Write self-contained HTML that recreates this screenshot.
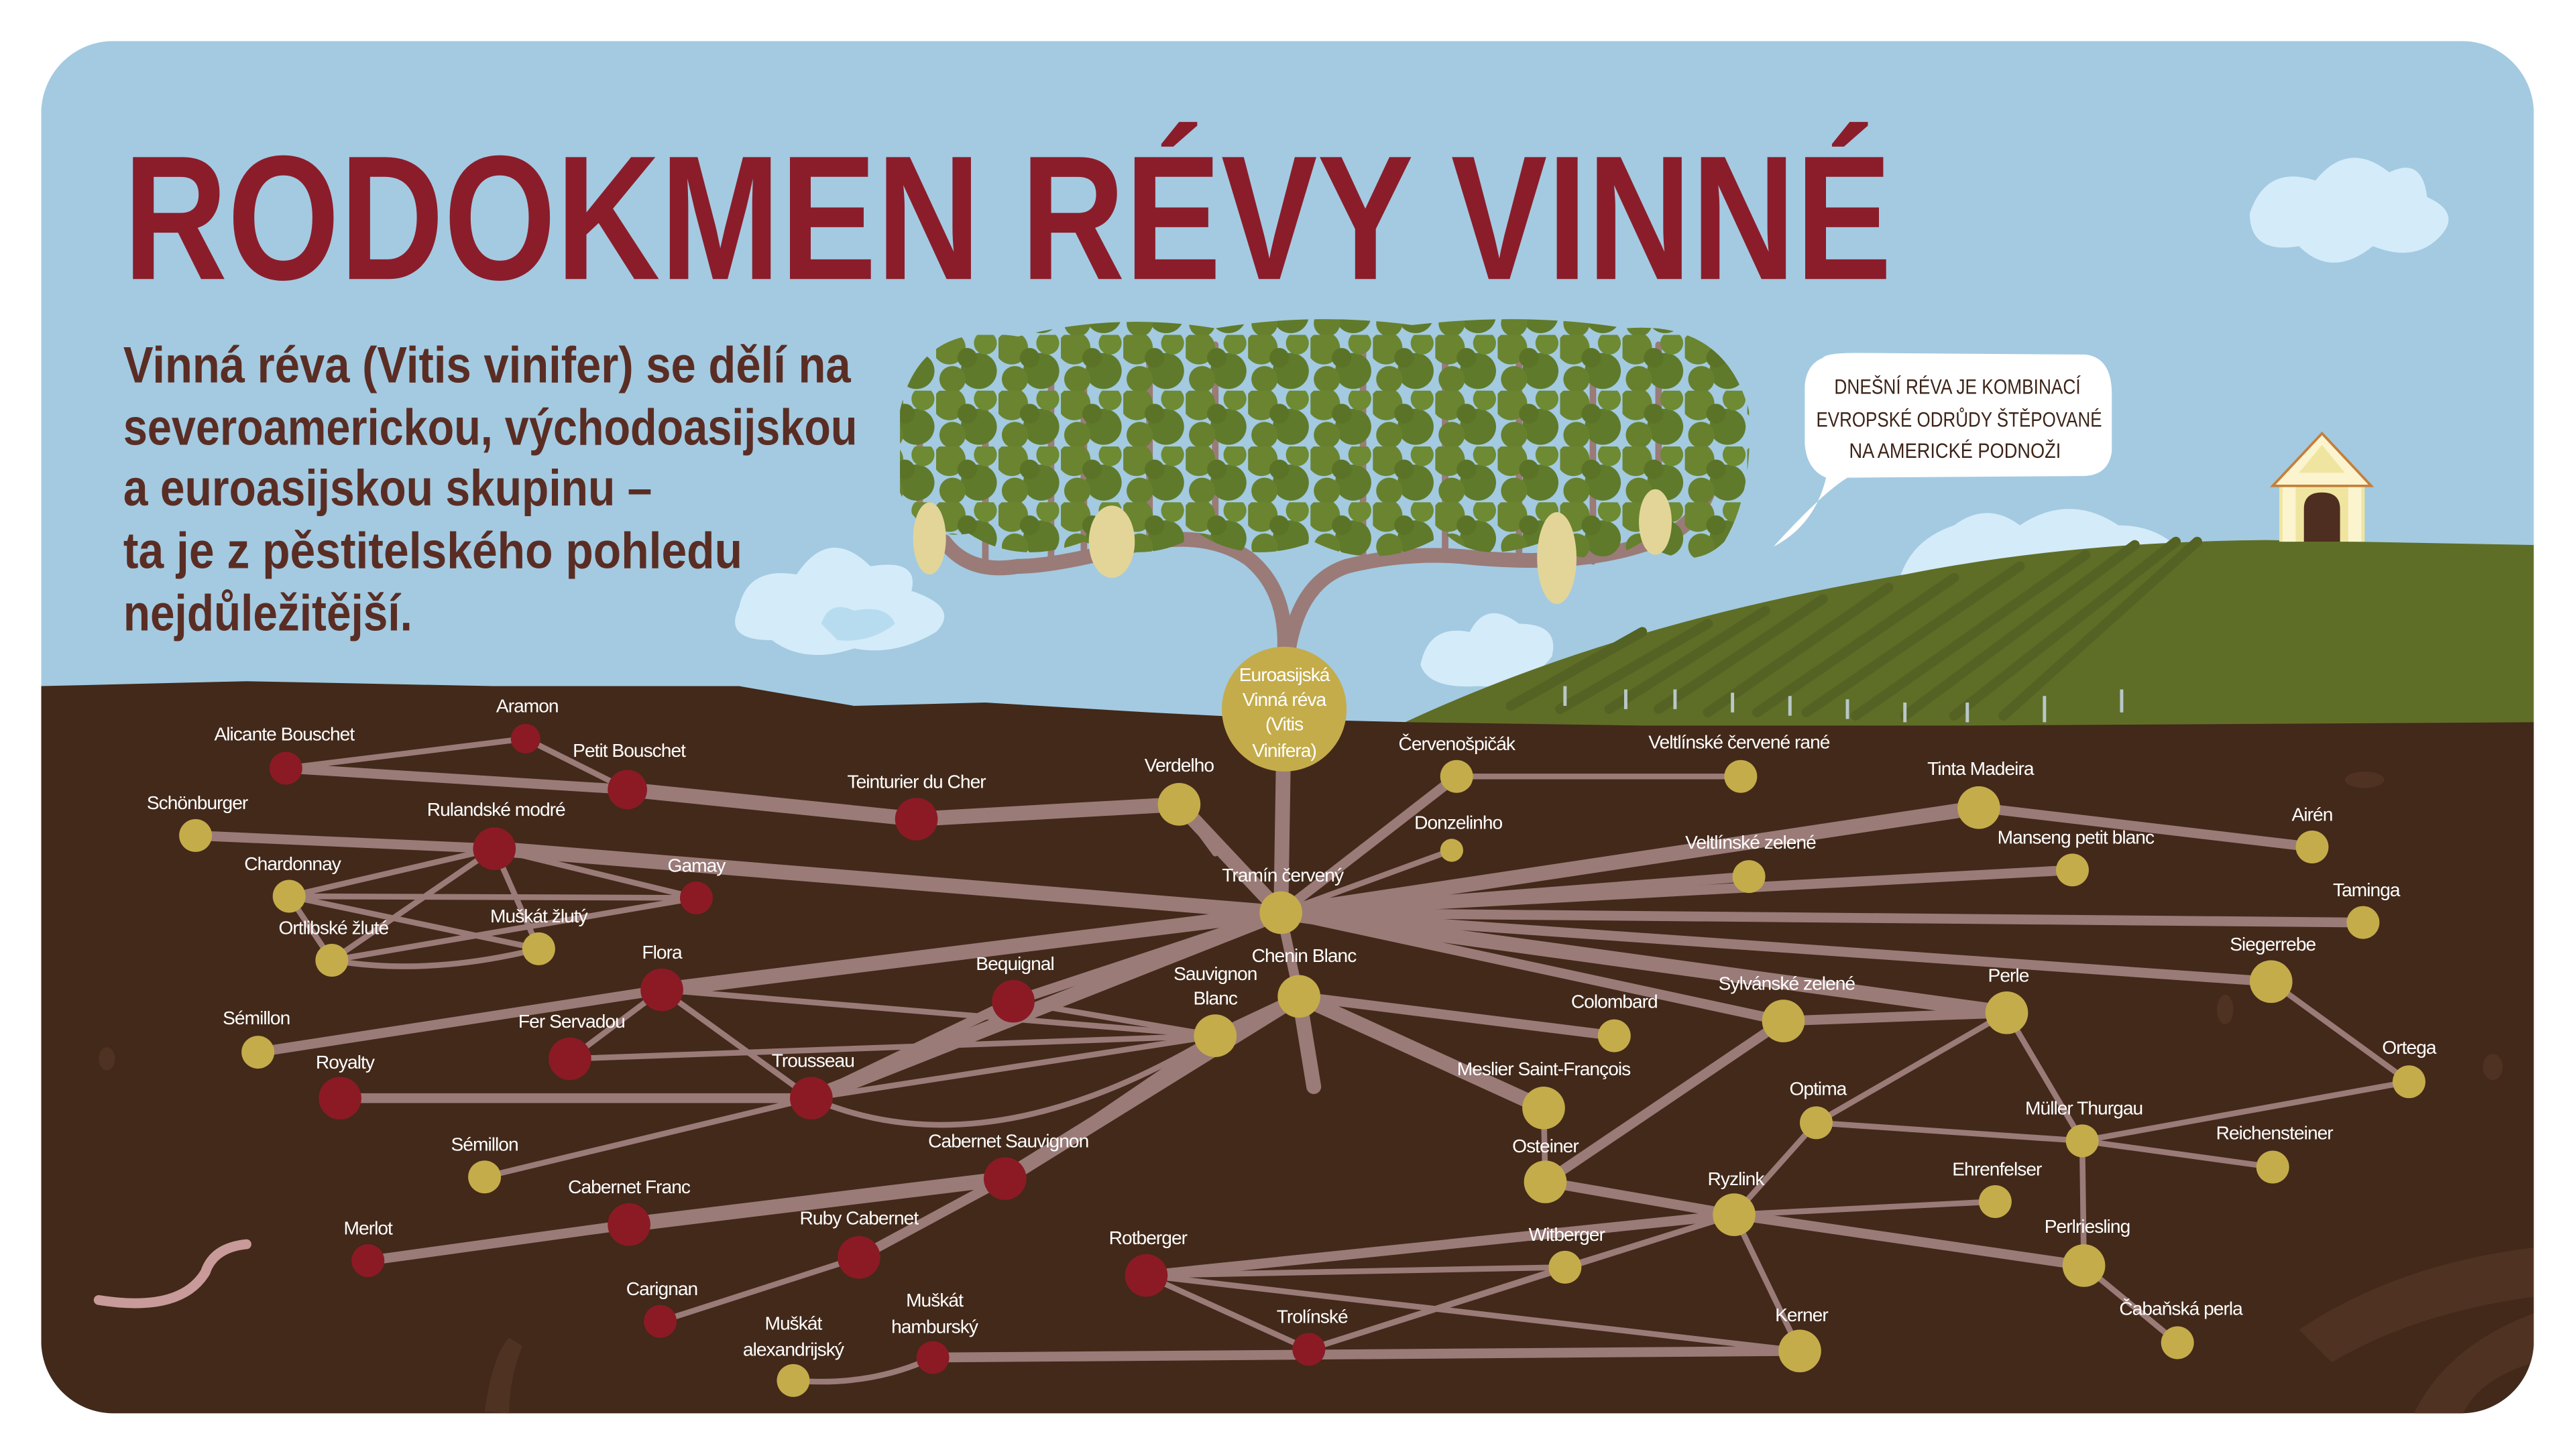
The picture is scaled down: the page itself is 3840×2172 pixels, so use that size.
<!DOCTYPE html>
<html><head><meta charset="utf-8"><style>
html,body{margin:0;padding:0;background:#fff}
svg{display:block}
.l{font-family:"Liberation Sans Narrow","Liberation Sans",sans-serif;font-size:11.5px;letter-spacing:-0.4px;fill:#fff;text-anchor:middle}
</style></head><body>
<svg width="3840" height="2172" viewBox="0 0 1568 887" xmlns="http://www.w3.org/2000/svg">
<defs>
<clipPath id="card"><rect x="25" y="25" width="1518" height="836" rx="44"/></clipPath>
<pattern id="leaf" width="38" height="34" patternUnits="userSpaceOnUse">
<circle cx="8" cy="8" r="10" fill="#6b8430"/><circle cx="26" cy="22" r="11" fill="#5f7a2a"/><circle cx="30" cy="5" r="7" fill="#6e8a32"/><circle cx="10" cy="27" r="8" fill="#66802e"/><circle cx="19" cy="14" r="6" fill="#5a7326"/>
</pattern>
</defs>
<g clip-path="url(#card)">
<rect x="25" y="25" width="1518" height="836" fill="#a3cae1"/>
<!-- clouds -->
<g fill="#d4ebf9">
<path d="M1370,130 Q1380,100 1410,110 Q1430,85 1455,105 Q1475,95 1478,120 Q1500,130 1485,145 Q1470,160 1445,150 Q1420,170 1400,150 Q1370,155 1370,130Z"/>
<path d="M450,370 Q455,345 485,350 Q505,320 530,345 Q560,340 555,360 Q585,370 570,385 Q545,400 520,395 Q490,405 470,390 Q440,390 450,370Z"/>
<path d="M865,405 Q870,380 895,385 Q905,365 925,380 Q950,380 945,400 Q930,420 900,418 Q870,420 865,405Z"/>
<path d="M1155,360 Q1160,330 1190,320 Q1210,305 1230,320 Q1260,300 1290,320 Q1320,320 1335,345 L1330,370 L1150,370Z"/>
</g>
<path d="M500,380 Q505,365 520,372 Q540,368 545,380 Q530,392 510,390Z" fill="#b8dcef"/>
<!-- hill -->
<path d="M845,445 Q980,380 1160,350 Q1260,330 1380,329 L1543,332 L1543,450 L845,450Z" fill="#5f6e27"/>
<g stroke="#546223" stroke-width="6" fill="none" stroke-linecap="round">
<path d="M920,430 L1000,385"/><path d="M950,432 L1040,380"/><path d="M980,432 L1075,372"/><path d="M1010,432 L1110,365"/><path d="M1040,434 L1150,358"/><path d="M1070,434 L1190,352"/><path d="M1100,434 L1230,345"/><path d="M1130,436 L1270,338"/><path d="M1160,436 L1300,332"/><path d="M1190,436 L1325,330"/><path d="M1220,436 L1338,330"/>
</g>
<g stroke="#b8c8c8" stroke-width="2">
<path d="M953,418 v12"/><path d="M990,420 v12"/><path d="M1020,420 v12"/><path d="M1055,422 v12"/><path d="M1090,424 v12"/><path d="M1125,426 v12"/><path d="M1160,428 v12"/><path d="M1198,428 v12"/><path d="M1245,424 v16"/><path d="M1292,420 v14"/>
</g>
<!-- chapel -->
<rect x="1388" y="296" width="52" height="34" fill="#f0e5a0"/>
<rect x="1390" y="296" width="8" height="34" fill="#fbf4cf"/><rect x="1430" y="296" width="8" height="34" fill="#fbf4cf"/>
<polygon points="1384,296 1414,264 1444,296" fill="#fbf4cf" stroke="#c47f3a" stroke-width="1.5"/>
<polygon points="1400,288 1414,271 1428,288" fill="#f0e5a0"/>
<path d="M1403,330 V310 Q1403,300 1414,300 Q1425,300 1425,310 V330Z" fill="#4d2e20"/>
<!-- speech bubble -->
<path d="M1110,218 Q1112,215 1130,215 L1270,216 Q1286,218 1286,240 L1286,275 Q1284,290 1268,290 L1125,291 Q1110,300 1080,333 Q1105,320 1112,291 Q1100,286 1099,270 L1099,235 Q1100,222 1110,218Z" fill="#fff"/>
<g font-family="Liberation Sans Narrow,Liberation Sans,sans-serif" font-size="13" fill="#3d2418">
<text x="1117" y="240" textLength="150" lengthAdjust="spacingAndGlyphs">DNEŠNÍ RÉVA JE KOMBINACÍ</text>
<text x="1106" y="260" textLength="174" lengthAdjust="spacingAndGlyphs">EVROPSKÉ ODRŮDY ŠTĚPOVANÉ</text>
<text x="1126" y="279" textLength="129" lengthAdjust="spacingAndGlyphs">NA AMERICKÉ PODNOŽI</text>
</g>
<!-- ground -->
<path d="M25,418 L150,415 L300,418 L450,418 L520,430 L600,428 L700,434 L780,438 L860,440 L1000,442 L1200,442 L1543,440 L1543,861 L25,861Z" fill="#42291a"/>
<g fill="#4f3222">
<ellipse cx="1440" cy="475" rx="12" ry="5"/><ellipse cx="1518" cy="650" rx="6" ry="8"/><ellipse cx="65" cy="645" rx="5" ry="7"/><ellipse cx="1355" cy="615" rx="5" ry="9"/>
<path d="M1400,810 Q1460,770 1543,760 L1543,790 Q1470,800 1420,830Z"/>
<path d="M1470,861 Q1490,820 1543,800 L1543,830 Q1510,840 1500,861Z"/>
<path d="M295,860 Q300,825 310,815 L318,820 Q310,840 310,861Z"/>
</g>
<path d="M60,792 Q110,800 125,775 Q130,760 150,758" stroke="#c99a9a" stroke-width="6" fill="none" stroke-linecap="round"/>
<!-- tree -->
<g fill="none" stroke="#9a7b78" stroke-linecap="round">
<path d="M782,400 Q785,360 760,340 Q730,320 680,335 Q640,345 620,345 Q590,350 575,330" stroke-width="9"/>
<path d="M784,400 Q790,355 820,345 Q860,335 900,340 Q960,345 1000,332 Q1030,325 1040,300" stroke-width="9"/>
<path d="M600,345 V250 M640,340 V220 M700,333 V220 M740,325 V210 M830,340 V210 M880,338 V215 M925,342 V210 M970,342 V220 M1010,330 V210 M660,338 V230 M560,320 V240" stroke-width="4"/>
</g>
<path d="M548,250 Q560,195 620,205 Q680,190 740,200 Q800,190 860,198 Q930,190 990,200 Q1050,195 1065,250 Q1068,300 1050,330 Q1030,350 1000,330 Q970,350 940,330 Q900,345 880,325 Q840,350 800,330 Q760,345 730,325 Q700,345 660,330 Q620,345 590,325 Q560,330 548,300Z" fill="url(#leaf)"/>
<g fill="#e3d598">
<ellipse cx="566" cy="328" rx="10" ry="22"/><ellipse cx="677" cy="330" rx="14" ry="22"/><ellipse cx="948" cy="340" rx="12" ry="28"/><ellipse cx="1008" cy="318" rx="10" ry="20"/>
</g>
<!-- roots -->
<g stroke="#9a7b78" fill="none" stroke-linecap="round">
<g stroke-width="9">
<path d="M782,430 L780,556"/>
<path d="M780,556 L718,490 L558,499 L382,481"/>
<path d="M780,556 L301,517"/>
<path d="M780,556 L494,669"/>
<path d="M780,556 L403,603"/>
<path d="M791,607 L612,718 L383,746"/>
<path d="M791,607 L940,675"/>
<path d="M780,556 L1205,492"/>
<path d="M780,556 L1222,617"/>
<path d="M791,607 L800,662"/>
</g>
<g stroke-width="6">
<path d="M612,718 L523,766"/><path d="M780,556 L791,607"/><path d="M791,607 L740,631"/>
<path d="M780,556 L887,473"/><path d="M780,556 L1065,534"/><path d="M780,556 L1383,598"/>
<path d="M780,556 L1439,562"/><path d="M780,556 L1262,530"/><path d="M780,556 L617,610 L494,669"/>
<path d="M403,603 L157,641"/><path d="M494,669 L207,669"/><path d="M1086,622 L941,720"/>
<path d="M941,720 L1056,740"/><path d="M1056,740 L1269,771"/><path d="M698,777 L1056,740"/>
<path d="M1205,492 L1408,516"/><path d="M382,481 L174,468"/><path d="M301,517 L119,509"/>
<path d="M383,746 L224,768"/><path d="M780,556 L1086,622 L1222,617"/><path d="M791,607 L983,631"/>
<path d="M568,827 L1096,823"/>
</g>
<g stroke-width="3.5">
<path d="M382,481 L320,450 L174,468"/><path d="M887,473 L1060,473"/><path d="M780,556 L884,518"/>
<path d="M301,517 L176,546 L424,547 L301,517 L328,578 L176,546 L202,585 L301,517"/>
<path d="M202,585 L424,547 M202,585 Q260,595 328,578"/>
<path d="M403,603 L347,645 L740,631 L617,610 M403,603 L494,669 M403,603 L740,631"/>
<path d="M494,669 L740,631 L612,718 M494,669 Q600,715 740,631"/>
<path d="M494,669 L295,717"/><path d="M523,766 L402,805"/>
<path d="M483,841 Q530,845 568,827"/>
<path d="M1222,617 L1268,695 L1106,684 L1222,617"/><path d="M1268,695 L1384,711"/>
<path d="M1268,695 L1467,659 L1383,598"/><path d="M1106,684 L1056,740 L1215,732"/>
<path d="M1056,740 L1096,823 L698,777 L797,822 L1056,740"/><path d="M698,777 L953,772 L1056,740"/>
<path d="M797,822 L953,772"/><path d="M1269,771 L1326,818"/><path d="M940,675 L941,720"/>
<path d="M1268,695 L1269,771"/><path d="M718,490 L740,520"/>
</g>
</g>
<!-- nodes -->
<g fill="#8b1a24">
<circle cx="174" cy="468" r="10"/><circle cx="320" cy="450" r="9"/><circle cx="382" cy="481" r="12"/>
<circle cx="301" cy="517" r="13"/><circle cx="558" cy="499" r="13"/><circle cx="424" cy="547" r="10"/>
<circle cx="403" cy="603" r="13"/><circle cx="617" cy="610" r="13"/><circle cx="347" cy="645" r="13"/>
<circle cx="207" cy="669" r="13"/><circle cx="494" cy="669" r="13"/><circle cx="612" cy="718" r="13"/>
<circle cx="383" cy="746" r="13"/><circle cx="224" cy="768" r="10"/><circle cx="523" cy="766" r="13"/>
<circle cx="402" cy="805" r="10"/><circle cx="568" cy="827" r="10"/><circle cx="698" cy="777" r="13"/>
<circle cx="797" cy="822" r="10"/>
</g>
<g fill="#c4ac4a">
<circle cx="782" cy="432" r="38"/>
<circle cx="119" cy="509" r="10"/><circle cx="718" cy="490" r="13"/><circle cx="176" cy="546" r="10"/>
<circle cx="202" cy="585" r="10"/><circle cx="328" cy="578" r="10"/><circle cx="740" cy="631" r="13"/>
<circle cx="791" cy="607" r="13"/><circle cx="780" cy="556" r="13"/><circle cx="157" cy="641" r="10"/>
<circle cx="295" cy="717" r="10"/><circle cx="483" cy="841" r="10"/><circle cx="953" cy="772" r="10"/>
<circle cx="1096" cy="823" r="13"/><circle cx="1056" cy="740" r="13"/><circle cx="941" cy="720" r="13"/>
<circle cx="940" cy="675" r="13"/><circle cx="983" cy="631" r="10"/><circle cx="1086" cy="622" r="13"/>
<circle cx="1222" cy="617" r="13"/><circle cx="1106" cy="684" r="10"/><circle cx="1268" cy="695" r="10"/>
<circle cx="1215" cy="732" r="10"/><circle cx="1384" cy="711" r="10"/><circle cx="1269" cy="771" r="13"/>
<circle cx="1326" cy="818" r="10"/><circle cx="1467" cy="659" r="10"/><circle cx="1383" cy="598" r="13"/>
<circle cx="1439" cy="562" r="10"/><circle cx="1408" cy="516" r="10"/><circle cx="1205" cy="492" r="13"/>
<circle cx="1262" cy="530" r="10"/><circle cx="1065" cy="534" r="10"/><circle cx="1060" cy="473" r="10"/>
<circle cx="887" cy="473" r="10"/><circle cx="884" cy="518" r="7"/>
</g>
<!-- labels -->
<g class="l">
<text class="l" x="782" y="415">Euroasijská</text><text class="l" x="782" y="430">Vinná réva</text><text class="l" x="782" y="445">(Vitis</text><text class="l" x="782" y="461">Vinifera)</text>
<text class="l" x="173" y="451">Alicante Bouschet</text><text class="l" x="321" y="434">Aramon</text><text class="l" x="383" y="461">Petit Bouschet</text>
<text class="l" x="120" y="493">Schönburger</text><text class="l" x="302" y="497">Rulandské modré</text><text class="l" x="558" y="480">Teinturier du Cher</text>
<text class="l" x="718" y="470">Verdelho</text><text class="l" x="178" y="530">Chardonnay</text><text class="l" x="424" y="531">Gamay</text>
<text class="l" x="203" y="569">Ortlibské žluté</text><text class="l" x="328" y="562">Muškát žlutý</text><text class="l" x="403" y="584">Flora</text>
<text class="l" x="618" y="591">Bequignal</text><text class="l" x="740" y="597">Sauvignon</text><text class="l" x="740" y="612">Blanc</text>
<text class="l" x="781" y="537">Tramín červený</text><text class="l" x="794" y="586">Chenin Blanc</text>
<text class="l" x="156" y="624">Sémillon</text><text class="l" x="348" y="626">Fer Servadou</text><text class="l" x="210" y="651">Royalty</text>
<text class="l" x="495" y="650">Trousseau</text><text class="l" x="295" y="701">Sémillon</text><text class="l" x="614" y="699">Cabernet Sauvignon</text>
<text class="l" x="383" y="727">Cabernet Franc</text><text class="l" x="224" y="752">Merlot</text><text class="l" x="523" y="746">Ruby Cabernet</text>
<text class="l" x="403" y="789">Carignan</text><text class="l" x="483" y="810">Muškát</text><text class="l" x="483" y="826">alexandrijský</text>
<text class="l" x="569" y="796">Muškát</text><text class="l" x="569" y="812">hamburský</text><text class="l" x="699" y="758">Rotberger</text>
<text class="l" x="799" y="806">Trolínské</text><text class="l" x="954" y="756">Witberger</text><text class="l" x="1097" y="805">Kerner</text>
<text class="l" x="1057" y="722">Ryzlink</text><text class="l" x="941" y="702">Osteiner</text><text class="l" x="940" y="655">Meslier Saint-François</text>
<text class="l" x="983" y="614">Colombard</text><text class="l" x="1088" y="603">Sylvánské zelené</text><text class="l" x="1223" y="598">Perle</text>
<text class="l" x="1107" y="667">Optima</text><text class="l" x="1269" y="679">Müller Thurgau</text><text class="l" x="1216" y="716">Ehrenfelser</text>
<text class="l" x="1385" y="694">Reichensteiner</text><text class="l" x="1271" y="751">Perlriesling</text><text class="l" x="1328" y="801">Čabaňská perla</text>
<text class="l" x="1467" y="642">Ortega</text><text class="l" x="1384" y="579">Siegerrebe</text><text class="l" x="1441" y="546">Taminga</text>
<text class="l" x="1408" y="500">Airén</text><text class="l" x="1206" y="472">Tinta Madeira</text><text class="l" x="1264" y="514">Manseng petit blanc</text>
<text class="l" x="1066" y="517">Veltlínské zelené</text><text class="l" x="1059" y="456">Veltlínské červené rané</text>
<text class="l" x="887" y="457">Červenošpičák</text><text class="l" x="888" y="505">Donzelinho</text>
</g>
<!-- title -->
<text x="75" y="170" font-family="Liberation Sans Narrow,Liberation Sans,sans-serif" font-weight="bold" font-size="108" fill="#8b1d2b" textLength="1077" lengthAdjust="spacingAndGlyphs">RODOKMEN RÉVY VINNÉ</text>
<g font-family="Liberation Sans Narrow,Liberation Sans,sans-serif" font-weight="bold" font-size="31" fill="#5a2d24">
<text x="75" y="233" textLength="443" lengthAdjust="spacingAndGlyphs">Vinná réva (Vitis vinifer) se dělí na</text>
<text x="75" y="271" textLength="447" lengthAdjust="spacingAndGlyphs">severoamerickou, východoasijskou</text>
<text x="75" y="308" textLength="322" lengthAdjust="spacingAndGlyphs">a euroasijskou skupinu –</text>
<text x="75" y="346" textLength="377" lengthAdjust="spacingAndGlyphs">ta je z pěstitelského pohledu</text>
<text x="75" y="384" textLength="176" lengthAdjust="spacingAndGlyphs">nejdůležitější.</text>
</g>
</g>
</svg>
</body></html>
